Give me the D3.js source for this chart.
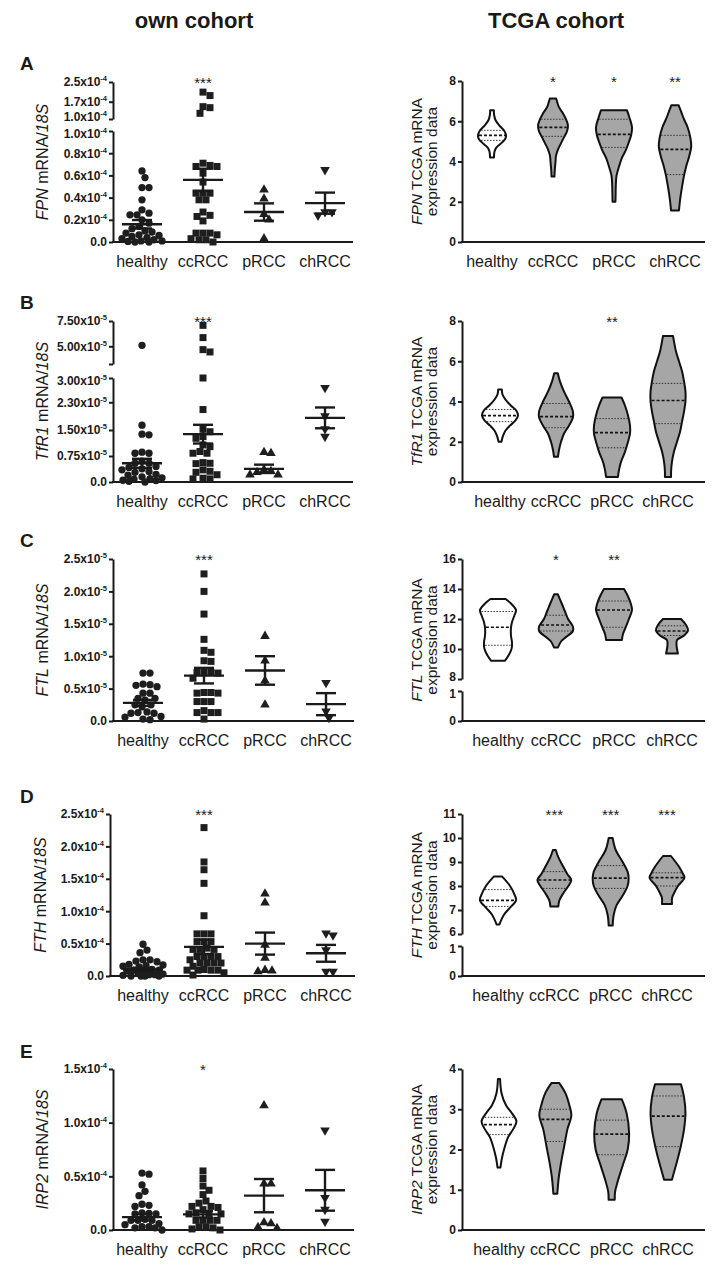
<!DOCTYPE html>
<html><head><meta charset="utf-8">
<script src="https://cdnjs.cloudflare.com/ajax/libs/d3/7.8.5/d3.min.js"></script>
<style>
body{margin:0;background:#fff}
svg{display:block}
text{font-family:"Liberation Sans",Arial,Helvetica,sans-serif;fill:#1a1a1a}
</style>
</head><body>
<svg id="chart" width="721" height="1273"></svg>
<script>
// ---------------- DATA ----------------
const categories = ["healthy", "ccRCC", "pRCC", "chRCC"];
const genes = ["FPN", "TfR1", "FTL", "FTH", "IRP2"];
const panelLetters = ["A", "B", "C", "D", "E"];
const columnTitles = ["own cohort", "TCGA cohort"];

// own cohort: relative mRNA/18S (in units of 10^exp)
const fpnOwn = [
  [0.64,0.58,0.49,0.49,0.38,0.29,0.26,0.245,0.245,0.2,0.17,0.14,0.12,0.1,0.09,0.08,0.065,0.06,0.05,0.04,0.03,0.02,0.01,0.01,0.005,0.0,0.0],
  [2.09,1.95,1.5,1.46,1.23,0.71,0.69,0.68,0.68,0.62,0.54,0.44,0.44,0.44,0.38,0.38,0.27,0.24,0.23,0.19,0.08,0.08,0.08,0.065,0.03,0.02,0.02,0.0],
  [0.47,0.39,0.25,0.2,0.03],
  [0.65,0.27,0.27,0.24]
];
const fpnOwnMean = [0.16, 0.56, 0.27, 0.35];
const fpnOwnSem = [0.038, 0.1, 0.078, 0.095];
const fpnOwnTicks = [[0,0.2,0.4,0.6,0.8,1.0],[1.0,1.7,2.5]];
const fpnOwnStars = ["", "***", "", ""];

const tfr1Own = [
  [5.1,1.64,1.38,1.36,0.86,0.83,0.83,0.6,0.54,0.54,0.45,0.42,0.38,0.35,0.3,0.28,0.22,0.2,0.15,0.12,0.1,0.08,0.05,0.04,0.02,0.0],
  [7.07,5.86,4.67,4.44,3.0,2.09,1.52,1.45,1.31,1.26,1.07,1.02,0.88,0.83,0.83,0.56,0.54,0.53,0.35,0.31,0.28,0.21,0.11,0.09,0.09],
  [0.86,0.83,0.35,0.31,0.28,0.21,0.21],
  [2.72,1.9,1.53,1.31]
];
const tfr1OwnMean = [0.54, 1.38, 0.38, 1.85];
const tfr1OwnSem = [0.13, 0.27, 0.12, 0.3];
const tfr1OwnTicks = [[0,0.75,1.5,2.3,3.0],[3.25,5.0,7.5]];
const tfr1OwnStars = ["", "***", "", ""];

const ftlOwn = [
  [0.74,0.74,0.57,0.56,0.55,0.53,0.43,0.43,0.35,0.35,0.32,0.25,0.25,0.22,0.14,0.13,0.12,0.12,0.07,0.06,0.03,0.02],
  [2.27,2.0,1.65,1.26,1.09,1.06,0.93,0.92,0.75,0.75,0.75,0.74,0.66,0.44,0.44,0.43,0.43,0.3,0.3,0.3,0.16,0.13,0.13,0.13,0.03],
  [1.31,0.93,0.62,0.25],
  [0.59,0.15,0.05]
];
const ftlOwnMean = [0.28, 0.7, 0.78, 0.26];
const ftlOwnSem = [0.045, 0.12, 0.22, 0.17];
const ftlOwnTicks = [[0,0.5,1.0,1.5,2.0,2.5]];
const ftlOwnStars = ["", "***", "", ""];

const fthOwn = [
  [0.49,0.4,0.36,0.25,0.25,0.23,0.22,0.18,0.17,0.16,0.15,0.14,0.1,0.09,0.09,0.08,0.06,0.05,0.03,0.02,0.02,0.01,0.0,0.0,0.0,0.0],
  [2.29,1.76,1.64,1.43,0.93,0.65,0.65,0.65,0.53,0.53,0.53,0.43,0.41,0.41,0.41,0.3,0.3,0.3,0.3,0.25,0.2,0.2,0.2,0.2,0.15,0.1,0.09,0.09,0.09,0.09,0.05,0.015],
  [1.27,1.13,0.48,0.28,0.09,0.08,0.07],
  [0.66,0.63,0.4,0.07,0.07]
];
const fthOwnMean = [0.1, 0.45, 0.5, 0.35];
const fthOwnSem = [0.025, 0.11, 0.17, 0.13];
const fthOwnTicks = [[0,0.5,1.0,1.5,2.0,2.5]];
const fthOwnStars = ["", "***", "", ""];

const irp2Own = [
  [0.53,0.52,0.42,0.36,0.32,0.24,0.23,0.22,0.16,0.155,0.15,0.15,0.1,0.09,0.09,0.09,0.06,0.05,0.03,0.03,0.02,0.02,0.0],
  [0.55,0.48,0.41,0.37,0.33,0.27,0.25,0.22,0.22,0.21,0.19,0.16,0.155,0.15,0.15,0.09,0.09,0.09,0.09,0.03,0.03,0.02,0.01,0.0],
  [1.16,0.43,0.43,0.07,0.06,0.025,0.016],
  [0.93,0.3,0.19,0.08]
];
const irp2OwnMean = [0.12, 0.146, 0.32, 0.37];
const irp2OwnSem = [0.03, 0.03, 0.155, 0.19];
const irp2OwnTicks = [[0,0.5,1.0,1.5]];
const irp2OwnStars = ["", "*", "", ""];

// TCGA cohort: violin profiles [value, relative density]
const fpnTcgaShape = [
  [[6.55,0.1],[6.3,0.12],[6.05,0.2],[5.8,0.4],[5.55,0.66],[5.3,0.78],[5.1,0.72],[4.9,0.5],[4.7,0.25],[4.5,0.14],[4.2,0.11]],
  [[7.13,0.17],[7.0,0.22],[6.7,0.33],[6.4,0.55],[6.1,0.72],[5.8,0.83],[5.5,0.78],[5.2,0.61],[4.9,0.44],[4.6,0.28],[4.3,0.17],[4.0,0.14],[3.6,0.1],[3.25,0.08]],
  [[6.55,0.72],[6.2,0.85],[5.7,1.0],[5.3,0.95],[4.9,0.8],[4.55,0.65],[4.2,0.45],[3.75,0.28],[3.3,0.14],[2.8,0.1],[2.4,0.09],[2.0,0.08]],
  [[6.8,0.2],[6.5,0.33],[6.1,0.5],[5.7,0.7],[5.2,0.85],[4.75,0.9],[4.3,0.8],[3.75,0.62],[3.3,0.5],[2.9,0.42],[2.4,0.33],[2.0,0.27],[1.57,0.22]]
];
const fpnTcgaMedian = [5.3, 5.7, 5.35, 4.6];
const fpnTcgaQ1 = [5.05, 5.25, 4.7, 3.35];
const fpnTcgaQ3 = [5.55, 6.1, 6.1, 5.3];
const fpnTcgaTicks = [[0,2,4,6,8]];
const fpnTcgaStars = ["", "*", "*", "**"];

const tfr1TcgaShape = [
  [[4.6,0.1],[4.35,0.14],[4.1,0.3],[3.8,0.6],[3.55,0.9],[3.3,1.0],[3.05,0.85],[2.8,0.55],[2.55,0.3],[2.3,0.17],[2.0,0.08]],
  [[5.4,0.1],[5.0,0.22],[4.5,0.44],[4.0,0.72],[3.5,0.94],[3.2,0.94],[2.8,0.72],[2.4,0.44],[2.0,0.28],[1.6,0.17],[1.25,0.11]],
  [[4.2,0.53],[3.8,0.72],[3.3,0.89],[2.8,1.0],[2.4,1.0],[2.0,0.89],[1.5,0.72],[1.0,0.5],[0.6,0.39],[0.25,0.33]],
  [[7.25,0.28],[7.0,0.33],[6.5,0.44],[6.0,0.61],[5.5,0.78],[5.0,0.89],[4.5,0.97],[4.0,0.97],[3.5,0.89],[3.0,0.78],[2.5,0.67],[2.0,0.5],[1.5,0.33],[1.0,0.22],[0.5,0.17],[0.25,0.17]]
];
const tfr1TcgaMedian = [3.3, 3.25, 2.45, 4.05];
const tfr1TcgaQ1 = [3.0, 2.7, 1.7, 2.9];
const tfr1TcgaQ3 = [3.6, 3.9, 3.15, 4.9];
const tfr1TcgaTicks = [[0,2,4,6,8]];
const tfr1TcgaStars = ["", "", "**", ""];

const ftlTcgaShape = [
  [[13.33,0.42],[13.0,0.75],[12.6,1.0],[12.2,0.9],[11.8,0.78],[11.4,0.72],[10.9,0.72],[10.4,0.78],[10.0,0.75],[9.6,0.6],[9.22,0.39]],
  [[13.65,0.1],[13.0,0.33],[12.5,0.5],[12.0,0.67],[11.5,0.94],[11.2,0.94],[10.8,0.56],[10.5,0.28],[10.1,0.11]],
  [[14.0,0.56],[13.5,0.78],[13.0,0.94],[12.6,1.0],[12.0,0.83],[11.5,0.67],[11.0,0.5],[10.6,0.44]],
  [[12.0,0.5],[11.6,0.78],[11.25,0.89],[10.9,0.67],[10.6,0.28],[10.3,0.25],[10.0,0.28],[9.7,0.33]]
];
const ftlTcgaMedian = [11.45, 11.6, 12.6, 11.2];
const ftlTcgaQ1 = [10.25, 11.2, 11.45, 10.9];
const ftlTcgaQ3 = [12.5, 12.25, 13.2, 11.55];
const ftlTcgaTicks = [[0,1],[8,10,12,14,16]];
const ftlTcgaStars = ["", "*", "**", ""];

const fthTcgaShape = [
  [[8.4,0.22],[8.0,0.67],[7.6,0.94],[7.4,1.0],[7.1,0.67],[6.8,0.33],[6.4,0.08]],
  [[9.5,0.08],[9.2,0.22],[8.8,0.5],[8.5,0.72],[8.25,0.94],[8.0,0.78],[7.7,0.5],[7.4,0.28],[7.15,0.22]],
  [[10.0,0.11],[9.5,0.28],[9.0,0.67],[8.6,0.94],[8.3,1.0],[8.0,0.94],[7.6,0.67],[7.2,0.33],[6.8,0.17],[6.35,0.11]],
  [[9.25,0.22],[8.8,0.67],[8.5,0.89],[8.35,0.97],[8.0,0.61],[7.7,0.39],[7.5,0.28],[7.25,0.28]]
];
const fthTcgaMedian = [7.4, 8.25, 8.33, 8.35];
const fthTcgaQ1 = [7.15, 7.9, 7.9, 8.0];
const fthTcgaQ3 = [7.85, 8.6, 8.85, 8.55];
const fthTcgaTicks = [[0,1],[6,7,8,9,10,11]];
const fthTcgaStars = ["", "***", "***", "***"];

const irp2TcgaShape = [
  [[3.75,0.06],[3.4,0.14],[3.1,0.39],[2.9,0.72],[2.7,0.97],[2.5,0.78],[2.3,0.5],[2.0,0.28],[1.8,0.17],[1.55,0.08]],
  [[3.65,0.22],[3.4,0.56],[3.1,0.78],[2.85,0.89],[2.5,0.67],[2.1,0.5],[1.7,0.33],[1.3,0.19],[0.9,0.11]],
  [[3.25,0.56],[2.9,0.83],[2.4,0.97],[2.0,0.89],[1.6,0.61],[1.2,0.33],[0.95,0.19],[0.75,0.17]],
  [[3.62,0.72],[3.3,0.89],[2.9,0.97],[2.5,0.89],[2.1,0.72],[1.7,0.5],[1.4,0.31],[1.25,0.22]]
];
const irp2TcgaMedian = [2.62, 2.75, 2.38, 2.83];
const irp2TcgaQ1 = [2.37, 2.2, 1.87, 2.07];
const irp2TcgaQ3 = [2.8, 3.0, 2.73, 3.33];
const irp2TcgaTicks = [[0,1,2,3,4]];
const irp2TcgaStars = ["", "", "", ""];

// ---------------- LAYOUT ----------------
const leftPanels = [
  {data:fpnOwn, mean:fpnOwnMean, sem:fpnOwnSem, ticks:fpnOwnTicks, stars:fpnOwnStars, exp:"-4", dec:1,
   axisX:113, xEnd:353, cats:[142,325], ranges:[[242,131],[119,82]], domains:[[0,1.0],[1.0,2.5]], letterY:70, blank:[]},
  {data:tfr1Own, mean:tfr1OwnMean, sem:tfr1OwnSem, ticks:tfr1OwnTicks, stars:tfr1OwnStars, exp:"-5", dec:2,
   axisX:113, xEnd:353, cats:[142,325], ranges:[[482,378],[364,321]], domains:[[0,3.0],[3.25,7.5]], letterY:309, blank:[3.25]},
  {data:ftlOwn, mean:ftlOwnMean, sem:ftlOwnSem, ticks:ftlOwnTicks, stars:ftlOwnStars, exp:"-5", dec:1,
   axisX:113, xEnd:354, cats:[143,326], ranges:[[721,559]], domains:[[0,2.5]], letterY:547, blank:[]},
  {data:fthOwn, mean:fthOwnMean, sem:fthOwnSem, ticks:fthOwnTicks, stars:fthOwnStars, exp:"-4", dec:1,
   axisX:110, xEnd:355, cats:[143,326], ranges:[[976,814]], domains:[[0,2.5]], letterY:803, blank:[]},
  {data:irp2Own, mean:irp2OwnMean, sem:irp2OwnSem, ticks:irp2OwnTicks, stars:irp2OwnStars, exp:"-4", dec:1,
   axisX:113, xEnd:354, cats:[142,325], ranges:[[1230,1069]], domains:[[0,1.5]], letterY:1058, blank:[]}
];
const rightPanels = [
  {shape:fpnTcgaShape, med:fpnTcgaMedian, q1:fpnTcgaQ1, q3:fpnTcgaQ3, ticks:fpnTcgaTicks, stars:fpnTcgaStars,
   cats:[492,675], ranges:[[242,81]], domains:[[0,8]]},
  {shape:tfr1TcgaShape, med:tfr1TcgaMedian, q1:tfr1TcgaQ1, q3:tfr1TcgaQ3, ticks:tfr1TcgaTicks, stars:tfr1TcgaStars,
   cats:[500,668], ranges:[[482,321]], domains:[[0,8]]},
  {shape:ftlTcgaShape, med:ftlTcgaMedian, q1:ftlTcgaQ1, q3:ftlTcgaQ3, ticks:ftlTcgaTicks, stars:ftlTcgaStars,
   cats:[498,672], ranges:[[721,691],[679,559]], domains:[[0,1],[8,16]]},
  {shape:fthTcgaShape, med:fthTcgaMedian, q1:fthTcgaQ1, q3:fthTcgaQ3, ticks:fthTcgaTicks, stars:fthTcgaStars,
   cats:[498,667], ranges:[[976,946],[934,814]], domains:[[0,1],[6,11]]},
  {shape:irp2TcgaShape, med:irp2TcgaMedian, q1:irp2TcgaQ1, q3:irp2TcgaQ3, ticks:irp2TcgaTicks, stars:irp2TcgaStars,
   cats:[499,668], ranges:[[1230,1069]], domains:[[0,4]]}
];
const INK = "#1a1a1a";
const GRAY = "#a6a6a6";

const svg = d3.select("#chart");

svg.append("text").attr("x", 194).attr("y", 28).attr("text-anchor", "middle")
  .attr("font-size", 22).attr("font-weight", "bold").text(columnTitles[0]);
svg.append("text").attr("x", 556).attr("y", 28).attr("text-anchor", "middle")
  .attr("font-size", 22).attr("font-weight", "bold").text(columnTitles[1]);

function makeSegScales(p) {
  return p.domains.map((d, i) => d3.scaleLinear().domain(d).range(p.ranges[i]));
}
function piecewise(scales) {
  return v => {
    for (const s of scales) { if (v <= s.domain()[1]) return s(v); }
    return scales[scales.length - 1](v);
  };
}

function drawYAxis(g, axisX, scales, ticks, labelFn) {
  scales.forEach((sc, i) => {
    const ax = d3.axisLeft(sc).tickValues(ticks[i]).tickSize(4).tickSizeOuter(0).tickPadding(2).tickFormat(() => "");
    const a = g.append("g").attr("transform", `translate(${axisX},0)`).call(ax);
    a.select(".domain").attr("stroke", INK).attr("stroke-width", 2);
    a.selectAll(".tick line").attr("stroke", INK).attr("stroke-width", 2);
    const segTop = sc.domain()[1], segBot = sc.domain()[0];
    a.selectAll(".tick text").each(function(v) {
      const t = d3.select(this).attr("font-size", 12).attr("font-weight", "bold").attr("fill", INK)
        .style("font-family", '"Liberation Sans", Arial, sans-serif');
      if (scales.length > 1 && i === 0 && v === segTop) t.attr("dy", "0.55em");
      if (scales.length > 1 && i === 1 && v === segBot) t.attr("dy", "0.1em");
      labelFn(t, v);
    });
  });
}

function catLabels(g, xs, yBase) {
  categories.forEach(c => {
    g.append("text").attr("x", xs(c)).attr("y", yBase).attr("text-anchor", "middle")
      .attr("font-size", 16).attr("fill", "#222").text(c);
  });
}

function starLabels(g, xs, stars, yTop) {
  stars.forEach((s, i) => {
    if (!s) return;
    g.append("text").attr("x", xs(categories[i])).attr("y", yTop + 6).attr("text-anchor", "middle")
      .attr("font-size", 15).attr("fill", "#333").text(s);
  });
}

function swarm(ys, D, maxW) {
  const order = ys.map((y, i) => i).sort((a, b) => ys[a] - ys[b]);
  const placed = [];
  const xs = new Array(ys.length);
  for (const i of order) {
    let best = 0, bestScore = -Infinity;
    for (let k = 0; k <= 2 * maxW; k++) {
      const cand = k === 0 ? 0 : (k % 2 ? Math.ceil(k / 2) : -Math.ceil(k / 2));
      let minD = Infinity;
      for (const p of placed) minD = Math.min(minD, Math.hypot(p.x - cand, p.y - ys[i]));
      if (minD >= D) { best = cand; break; }
      if (minD > bestScore) { bestScore = minD; best = cand; }
    }
    xs[i] = best; placed.push({x: best, y: ys[i]});
  }
  return xs;
}

const symbols = [
  {type: d3.symbolCircle, size: 42, rot: 0},
  {type: d3.symbolSquare, size: 49, rot: 0},
  {type: d3.symbolTriangle, size: 40, rot: 0},
  {type: d3.symbolTriangle, size: 40, rot: 180}
];

// ---------------- LEFT PANELS ----------------
leftPanels.forEach((p, pi) => {
  const g = svg.append("g");
  const segs = makeSegScales(p);
  const y = piecewise(segs);
  const bottom = p.ranges[0][0];
  const top = p.ranges[p.ranges.length - 1][1];
  const x = d3.scalePoint().domain(categories).range(p.cats);

  g.append("text").attr("x", 20).attr("y", p.letterY).attr("font-size", 19).attr("font-weight", "bold").text(panelLetters[pi]);

  drawYAxis(g, p.axisX, segs, p.ticks, (t, v) => {
    t.text(null);
    if (p.blank.includes(v)) return;
    if (v === 0) { t.text("0.0"); return; }
    t.append("tspan").text(v.toFixed(p.dec) + "x10");
    t.append("tspan").attr("dy", -5).attr("font-size", 7.5).text(p.exp);
  });
  g.append("line").attr("x1", p.axisX - 1).attr("x2", p.xEnd).attr("y1", bottom).attr("y2", bottom)
    .attr("stroke", INK).attr("stroke-width", 2);

  const lbl = g.append("text").attr("transform", `translate(${p.axisX === 110 ? 46 : 48},${(top + bottom) / 2}) rotate(-90)`)
    .attr("text-anchor", "middle").attr("font-size", 16).attr("fill", "#222");
  lbl.append("tspan").attr("font-style", "italic").text(genes[pi]);
  lbl.append("tspan").text(" mRNA/");
  lbl.append("tspan").attr("font-style", "italic").text("18S");

  p.data.forEach((vals, ci) => {
    const cx = x(categories[ci]);
    const ys = vals.map(v => y(v));
    const offs = swarm(ys, 7, 20);
    const sym = d3.symbol().type(symbols[ci].type).size(symbols[ci].size);
    g.selectAll(null).data(vals).enter().append("path")
      .attr("d", sym)
      .attr("transform", (v, i) => `translate(${cx + offs[i]},${ys[i]}) rotate(${symbols[ci].rot})`)
      .attr("fill", "#1e1e1e");
    const m = p.mean[ci], s = p.sem[ci];
    g.append("line").attr("x1", cx - 20).attr("x2", cx + 20).attr("y1", y(m)).attr("y2", y(m))
      .attr("stroke", INK).attr("stroke-width", 2.4);
    g.append("line").attr("x1", cx).attr("x2", cx).attr("y1", y(m - s)).attr("y2", y(m + s))
      .attr("stroke", INK).attr("stroke-width", 2.4);
    [m - s, m + s].forEach(v => {
      g.append("line").attr("x1", cx - 10).attr("x2", cx + 10).attr("y1", y(v)).attr("y2", y(v))
        .attr("stroke", INK).attr("stroke-width", 2.4);
    });
  });

  catLabels(g, x, bottom + 25);
  starLabels(g, x, p.stars, top);
});

// ---------------- RIGHT PANELS ----------------
const halfW = d3.scaleLinear().domain([0, 1]).range([0, 18]);
function widthAt(profile, v) {
  for (let i = 0; i < profile.length - 1; i++) {
    const a = profile[i], b = profile[i + 1];
    if (v <= a[0] && v >= b[0]) {
      const t = (a[0] - v) / (a[0] - b[0]);
      return a[1] + t * (b[1] - a[1]);
    }
  }
  return 0;
}

rightPanels.forEach((p, pi) => {
  const g = svg.append("g");
  const segs = makeSegScales(p);
  const y = piecewise(segs);
  const bottom = p.ranges[0][0];
  const top = p.ranges[p.ranges.length - 1][1];
  const x = d3.scalePoint().domain(categories).range(p.cats);
  const axisX = 462, xEnd = 705;

  drawYAxis(g, axisX, segs, p.ticks, (t, v) => { t.text(String(v)); });
  g.append("line").attr("x1", axisX - 1).attr("x2", xEnd).attr("y1", bottom).attr("y2", bottom)
    .attr("stroke", INK).attr("stroke-width", 2);

  const cy = (top + bottom) / 2;
  const l1 = g.append("text").attr("transform", `translate(422,${cy}) rotate(-90)`)
    .attr("text-anchor", "middle").attr("font-size", 15.5).attr("fill", "#222");
  l1.append("tspan").attr("font-style", "italic").text(genes[pi]);
  l1.append("tspan").text(" TCGA mRNA");
  g.append("text").attr("transform", `translate(437,${cy}) rotate(-90)`)
    .attr("text-anchor", "middle").attr("font-size", 15.5).attr("fill", "#222").text("expression data");

  p.shape.forEach((prof, ci) => {
    const cx = x(categories[ci]);
    const area = d3.area().curve(d3.curveCatmullRom.alpha(0.5))
      .y(d => y(d[0])).x0(d => cx - halfW(d[1])).x1(d => cx + halfW(d[1]));
    g.append("path").attr("d", area(prof))
      .attr("fill", ci === 0 ? "#fff" : GRAY).attr("stroke", "#111").attr("stroke-width", 2)
      .attr("stroke-linejoin", "round");
    const qLine = (v, dash, w, col) => {
      const hw = Math.max(0, halfW(widthAt(prof, v)) - 1);
      g.append("line").attr("x1", cx - hw).attr("x2", cx + hw).attr("y1", y(v)).attr("y2", y(v))
        .attr("stroke", col).attr("stroke-width", w).attr("stroke-dasharray", dash);
    };
    qLine(p.q1[ci], "1.5,1.5", 1, "#333");
    qLine(p.q3[ci], "1.5,1.5", 1, "#333");
    qLine(p.med[ci], "3,2", 1.7, "#111");
  });

  catLabels(g, x, bottom + 25);
  starLabels(g, x, p.stars, top);
});
</script>
</body></html>
